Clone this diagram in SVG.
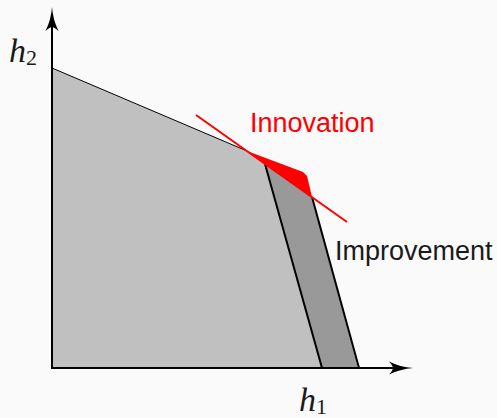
<svg xmlns="http://www.w3.org/2000/svg" width="497" height="418" viewBox="0 0 497 418">
<style>
.lab{font-family:"Liberation Sans","DejaVu Sans",sans-serif;font-size:27px}
.math{font-family:"Liberation Serif","DejaVu Serif",serif;font-style:italic}
.thick{stroke:#000;stroke-width:2;fill:none}
</style>
<rect width="497" height="418" fill="#fafafa"/>
<g id="region-base">
<polygon points="52,68 247,151 265,164 322,368 52,368" fill="#c0c0c0"/>
<line x1="52" y1="68" x2="247" y2="151" stroke="#000" stroke-width="1"/>
</g>
<g id="region-improvement">
<polygon points="265,164 312,197 358,368 322,368" fill="#999999"/>
</g>
<g id="region-innovation">
<polygon points="247,151 303,172 307,176 312,197" fill="#ff0000"/>
</g>
<g id="connectors">
<line class="thick" x1="265" y1="164" x2="322" y2="368"/>
<line class="thick" x1="312" y1="197" x2="359" y2="368"/>
<line x1="196" y1="115" x2="347" y2="222" stroke="#ff0000" stroke-width="2"/>
<line x1="52" y1="369" x2="52" y2="20" stroke="#000" stroke-width="2"/>
<path d="M52,7 Q53,20 58.5,31 Q54,27 52,27 Q50,27 45.5,31 Q51,20 52,7 Z" fill="#000"/>
<line x1="51" y1="368" x2="400" y2="368" stroke="#000" stroke-width="2"/>
<path d="M413,368 Q400,369 389,374.5 Q393,370 393,368 Q393,366 389,361.5 Q400,367 413,368 Z" fill="#000"/>
</g>
<g id="labels">
<text class="lab" x="250" y="132" fill="#ff0000" font-size="27.6">Innovation</text>
<text class="lab" x="335" y="260" fill="#1a1a1a">Improvement</text>
<text class="math" x="9" y="62" font-size="34" fill="#1a1a1a">h<tspan font-style="normal" font-size="22" dy="3">2</tspan></text>
<text class="math" x="299" y="411" font-size="34" fill="#1a1a1a">h<tspan font-style="normal" font-size="22" dy="3">1</tspan></text>
</g>
</svg>
